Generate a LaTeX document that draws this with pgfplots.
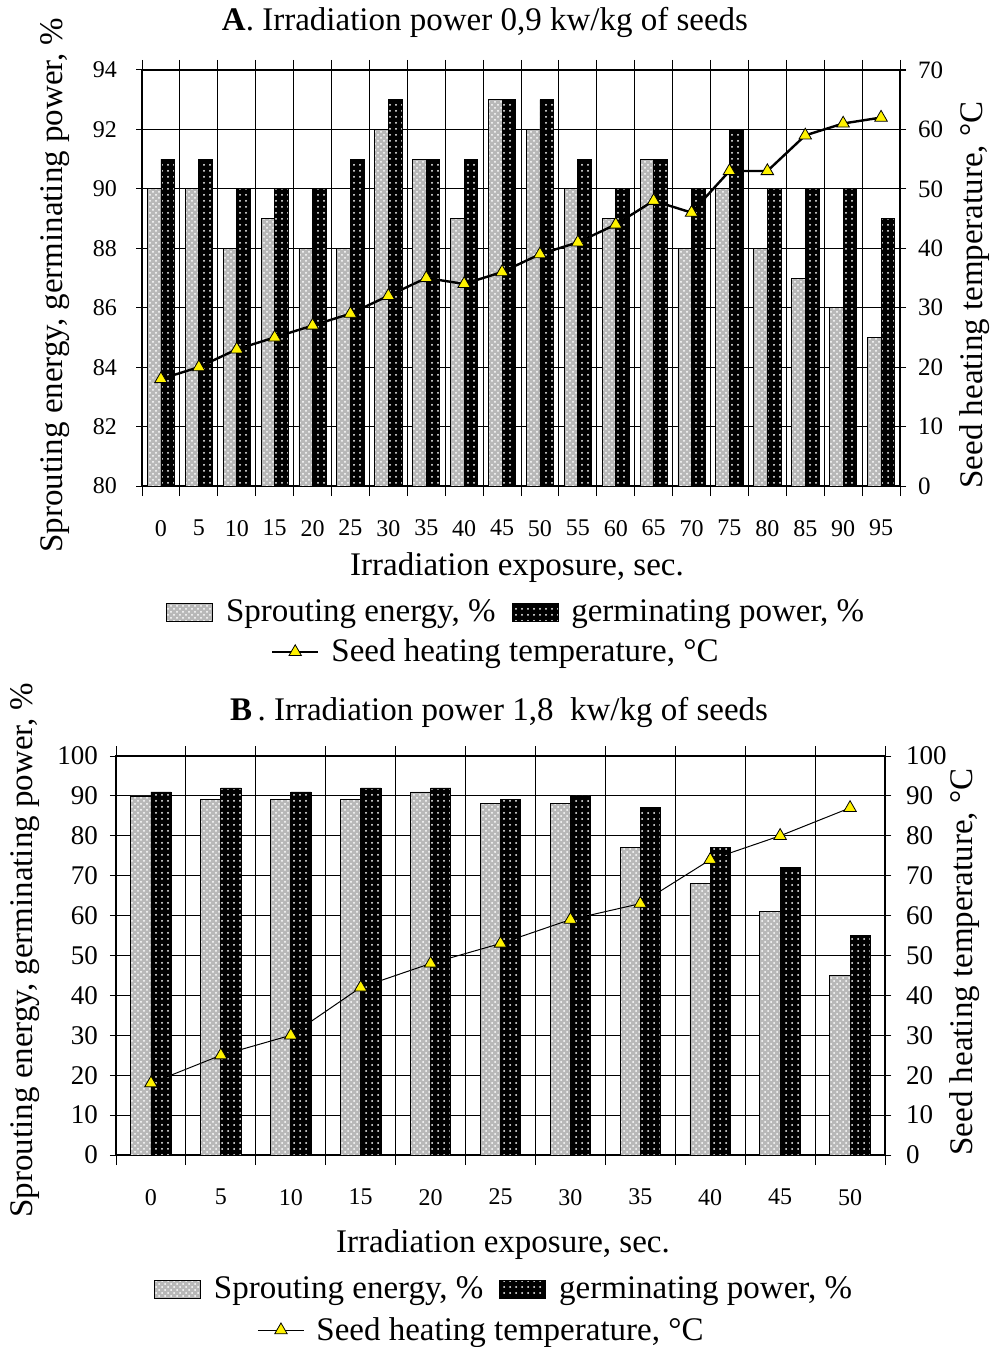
\documentclass[border=0pt]{standalone}
\usepackage{fontspec}
\setmainfont{Liberation Serif}
\usepackage{pgfplots}
\pgfplotsset{compat=1.18}
\usetikzlibrary{patterns}

\newcommand\bigf{\fontsize{16.5}{19}\selectfont}
\pgfplotsset{
  lightbar/.style={draw=black, line width=0.4pt, fill=black!28,
    postaction={pattern=crosshatch dots, pattern color=white}},
  darkbar/.style={draw=black, line width=0.4pt, fill=black,
    postaction={pattern=dots, pattern color=white}},
  panel/.style={
    anchor=south west, scale only axis,
    tick align=center, major tick length=6pt, minor tick length=10pt,
    major x tick style={draw=none},
    xminorgrids, ymajorgrids,
    grid style={black, line width=0.5pt},
    minor grid style={black, line width=0.5pt},
    axis line style={line width=0.6pt},
    tick style={black, line width=0.5pt},
    ticklabel style={font=\fontsize{12}{14}\selectfont},
    xticklabel style={yshift=-10.5pt},
    /pgf/number format/assume math mode=true,
    legend cell align=left,
    legend style={draw=none, fill=none, anchor=center, legend columns=2,
      font=\bigf,
      /tikz/every odd column/.append style={column sep=4.5pt},
      /tikz/every even column/.append style={column sep=6pt}},
    legend image code/.code={\draw[##1] (0pt,-4.5pt) rectangle (23pt,4.5pt);},
  },
  rightax/.style={
    anchor=south west, scale only axis,
    axis x line=none, axis y line*=right,
    tick align=center, major tick length=6pt,
    axis line style={line width=0.6pt},
    tick style={black, line width=0.5pt},
    ticklabel style={font=\fontsize{12.5}{14}\selectfont},
    /pgf/number format/assume math mode=true,
    legend style={draw=none, fill=none, anchor=center, font=\bigf,
      /tikz/every odd column/.append style={column sep=4pt}},
    legend image code/.code={\draw[mark repeat=2,mark phase=2,##1]
      plot coordinates {(0pt,0pt) (11.5pt,0pt) (23pt,0pt)};},
  },
}

\begin{document}
\begin{tikzpicture}
\useasboundingbox (0,0) rectangle (495.5pt,-673.5pt);

% ---------- A ----------
\node[font=\bigf] at (242.5pt,-11pt)
  {\textbf{A}. Irradiation power 0,9 kw/kg of seeds};
\begin{axis}[panel, at={(71pt,-243pt)}, width=379pt, height=208pt,
  xmin=-2.5, xmax=97.5, ymin=80, ymax=94,
  xtick={0,5,...,95}, minor xtick={-2.5,2.5,...,97.5},
  ytick={80,82,...,94},
  yticklabel style={xshift=-6pt},
  legend style={at={(0.495,-0.303)}}]
\addplot[ybar, bar width=1.8, bar shift=-0.9, lightbar] coordinates {
  (0,90) (5,90) (10,88) (15,89) (20,88) (25,88) (30,92) (35,91) (40,89) (45,93)
  (50,92) (55,90) (60,89) (65,91) (70,88) (75,90) (80,88) (85,87) (90,86) (95,85)};
\addlegendentry{Sprouting energy, \%}
\addplot[ybar, bar width=1.8, bar shift=0.9, darkbar] coordinates {
  (0,91) (5,91) (10,90) (15,90) (20,90) (25,91) (30,93) (35,91) (40,91) (45,93)
  (50,93) (55,91) (60,90) (65,91) (70,90) (75,92) (80,90) (85,90) (90,90) (95,89)};
\addlegendentry{germinating power, \%}
\end{axis}
\begin{axis}[rightax, at={(71pt,-243pt)}, width=379pt, height=208pt,
  xmin=-2.5, xmax=97.5, ymin=0, ymax=70, ytick={0,10,...,70},
  yticklabel style={xshift=2.5pt},
  legend style={at={(0.468,-0.399)}}]
\addplot[black, line width=1.2pt, mark=triangle*, mark size=3.6pt,
  mark options={fill=yellow, draw=black, line width=0.4pt}] coordinates {
  (0,18) (5,20) (10,23) (15,25) (20,27) (25,29) (30,32) (35,35) (40,34) (45,36)
  (50,39) (55,41) (60,44) (65,48) (70,46) (75,53) (80,53) (85,59) (90,61) (95,62)};
\addlegendentry{Seed heating temperature, °C}
\end{axis}
\node[rotate=90, font=\bigf] at (27.5pt,-142.5pt)
  {Sprouting energy, germinating power, \%};
\node[rotate=90, font=\bigf] at (487.5pt,-147.5pt)
  {Seed heating temperature, °C};
\node[font=\bigf] at (258.5pt,-284pt)
  {Irradiation exposure, sec.};

% ---------- B ----------
\node[font=\bigf] at (249.5pt,-356pt)
  {\textbf{B}\,. Irradiation power 1,8~ kw/kg of seeds};
\begin{axis}[panel, at={(58pt,-577.5pt)}, width=384.5pt, height=199.5pt,
  xmin=-2.5, xmax=52.5, ymin=0, ymax=100,
  xtick={0,5,...,50}, minor xtick={-2.5,2.5,...,52.5},
  ytick={0,10,...,100},
  yticklabel style={font=\fontsize{13.5}{15}\selectfont, xshift=-2.5pt},
  legend style={at={(0.506,-0.336)}}]
\addplot[ybar, bar width=1.45, bar shift=-0.725, lightbar] coordinates {
  (0,90) (5,89) (10,89) (15,89) (20,91) (25,88) (30,88) (35,77) (40,68) (45,61) (50,45)};
\addlegendentry{Sprouting energy, \%}
\addplot[ybar, bar width=1.45, bar shift=0.725, darkbar] coordinates {
  (0,91) (5,92) (10,91) (15,92) (20,92) (25,89) (30,90) (35,87) (40,77) (45,72) (50,55)};
\addlegendentry{germinating power, \%}
\end{axis}
\begin{axis}[rightax, at={(58pt,-577.5pt)}, width=384.5pt, height=199.5pt,
  xmin=-2.5, xmax=52.5, ymin=0, ymax=100, ytick={0,10,...,100},
  yticklabel style={font=\fontsize{13.5}{15}\selectfont, xshift=4pt},
  legend style={at={(0.4766,-0.439)}}]
\addplot[black, line width=0.5pt, mark=triangle*, mark size=3.6pt,
  mark options={fill=yellow, draw=black, line width=0.4pt}] coordinates {
  (0,18) (5,25) (10,30) (15,42) (20,48) (25,53) (30,59) (35,63) (40,74) (45,80) (50,87)};
\addlegendentry{Seed heating temperature, °C}
\end{axis}
\node[rotate=90, font=\bigf] at (12.5pt,-475pt)
  {Sprouting energy, germinating power, \%};
\node[rotate=90, font=\bigf] at (482.5pt,-481pt)
  {Seed heating temperature, °C};
\node[font=\bigf] at (251.5pt,-622.5pt)
  {Irradiation exposure, sec.};
\end{tikzpicture}
\end{document}
